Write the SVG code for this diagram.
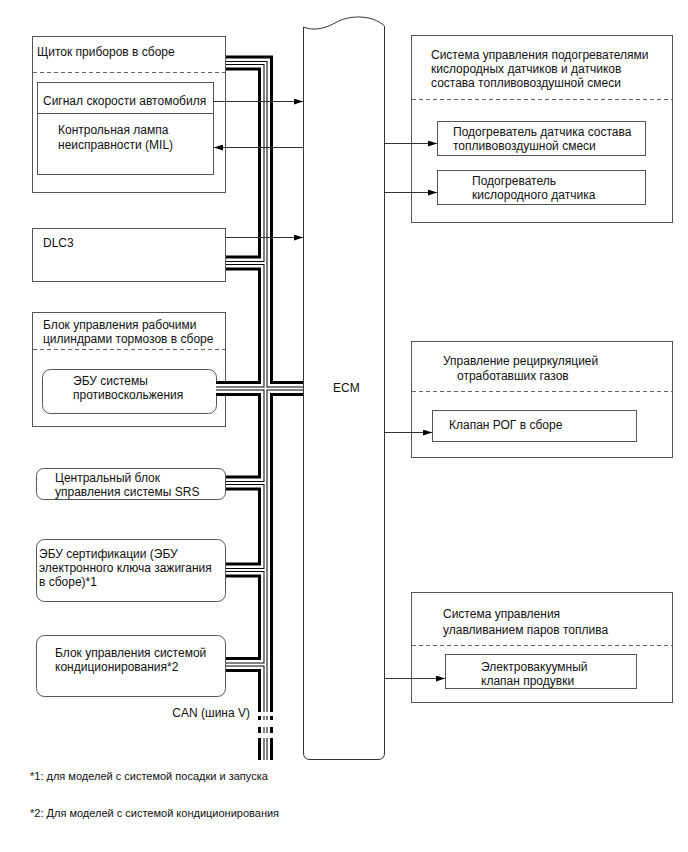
<svg xmlns="http://www.w3.org/2000/svg" xmlns:xlink="http://www.w3.org/1999/xlink" width="688" height="852" viewBox="0 0 688 852">
<style>
text{font-family:"Liberation Sans",Arial,sans-serif;font-size:12px;fill:#111}
.fn{font-size:11px}
.box{fill:none;stroke:#555;stroke-width:1}
.dash{fill:none;stroke:#666;stroke-width:1;stroke-dasharray:4 3}
.arr{fill:none;stroke:#333;stroke-width:1;marker-end:url(#ah)}
.b1{fill:none;stroke:#000;stroke-width:15;stroke-linejoin:miter}
.w1{fill:none;stroke:#fff;stroke-width:9;stroke-linejoin:miter}
.b2{fill:none;stroke:#000;stroke-width:4;stroke-linejoin:miter}
.w2{fill:none;stroke:#fff;stroke-width:2;stroke-linejoin:miter}
</style>
<defs>
<marker id="ah" markerUnits="userSpaceOnUse" markerWidth="9" markerHeight="6" refX="9" refY="3" orient="auto"><path d="M0,0 L9,3 L0,6 z" fill="#000"/></marker>
<path id="bus" d="M226 63 H265.5 V712 M226 263 H265.5 M216 388.5 H303 M226 483 H265.5 M226 570 H265.5 M226 664.5 H265.5 M265.5 716 V720 M265.5 727 V733 M265.5 738 V760"/>
</defs>
<rect width="688" height="852" fill="#fff"/>

<g id="ecm">
<path d="M303.5,27 C313,31 324,29 335,23 C348,15 372,14 384.5,26 V753 Q384.5,759.5 378,759.5 H310 Q303.5,759.5 303.5,753 Z" fill="#fff" stroke="#333" stroke-width="1"/>
<text x="333" y="392">ECM</text>
</g>

<g id="combination-meter">
<rect class="box" x="32.5" y="36.5" width="193" height="156"/>
<text x="37" y="56">Щиток приборов в сборе</text>
<line class="dash" x1="33" y1="72.5" x2="225" y2="72.5"/>
<rect class="box" x="37.5" y="82.5" width="176" height="92"/>
<line class="box" x1="37.5" y1="113.5" x2="213.5" y2="113.5"/>
<text x="43" y="105">Сигнал скорости автомобиля</text>
<text x="58" y="134">Контрольная лампа</text>
<text x="58" y="149">неисправности (MIL)</text>
</g>

<g id="dlc3">
<rect class="box" x="32.5" y="228.5" width="193" height="53"/>
<text x="43" y="247">DLC3</text>
</g>

<g id="brake-actuator">
<rect class="box" x="32.5" y="312.5" width="193" height="114"/>
<text x="43" y="329">Блок управления рабочими</text>
<text x="43" y="343">цилиндрами тормозов в сборе</text>
<line class="dash" x1="33" y1="349.5" x2="225" y2="349.5"/>
<rect class="box" x="42.5" y="369.5" width="174" height="44" rx="8"/>
<text x="73" y="385">ЭБУ системы</text>
<text x="73" y="399">противоскольжения</text>
</g>

<g id="srs">
<rect class="box" x="36.5" y="468.5" width="189" height="31" rx="7"/>
<text x="55" y="482">Центральный блок</text>
<text x="55" y="496">управления системы SRS</text>
</g>

<g id="certification">
<rect class="box" x="36.5" y="539.5" width="189" height="62" rx="8"/>
<text x="39" y="558">ЭБУ сертификации (ЭБУ</text>
<text x="39" y="572">электронного ключа зажигания</text>
<text x="39" y="586">в сборе)*1</text>
</g>

<g id="air-conditioning">
<rect class="box" x="36.5" y="635.5" width="189" height="61" rx="8"/>
<text x="55" y="657">Блок управления системой</text>
<text x="55" y="671">кондиционирования*2</text>
</g>

<g id="heater-control">
<rect class="box" x="411.5" y="35.5" width="261" height="187"/>
<text x="431" y="59">Система управления подогревателями</text>
<text x="431" y="73">кислородных датчиков и датчиков</text>
<text x="431" y="87">состава топливовоздушной смеси</text>
<line class="dash" x1="412" y1="99.5" x2="672" y2="99.5"/>
<rect class="box" x="437.5" y="121.5" width="208" height="34"/>
<text x="453" y="136">Подогреватель датчика состава</text>
<text x="453" y="150">топливовоздушной смеси</text>
<rect class="box" x="437.5" y="170.5" width="208" height="34"/>
<text x="472" y="185">Подогреватель</text>
<text x="472" y="199">кислородного датчика</text>
</g>

<g id="egr-control">
<rect class="box" x="411.5" y="341.5" width="261" height="116"/>
<text x="443" y="365">Управление рециркуляцией</text>
<text x="457" y="380">отработавших газов</text>
<line class="dash" x1="412" y1="391.5" x2="672" y2="391.5"/>
<rect class="box" x="432.5" y="410.5" width="204" height="31"/>
<text x="449" y="429">Клапан РОГ в сборе</text>
</g>

<g id="evap-control">
<rect class="box" x="411.5" y="592.5" width="261" height="110"/>
<text x="443" y="618">Система управления</text>
<text x="443" y="634">улавливанием паров топлива</text>
<line class="dash" x1="412" y1="645.5" x2="672" y2="645.5"/>
<rect class="box" x="445.5" y="654.5" width="191" height="34"/>
<text x="481" y="671">Электровакуумный</text>
<text x="481" y="685">клапан продувки</text>
</g>

<g id="connectors">
<use xlink:href="#bus" class="b1"/>
<use xlink:href="#bus" class="w1"/>
<use xlink:href="#bus" class="b2"/>
<use xlink:href="#bus" class="w2"/>
<line class="arr" x1="213.5" y1="101.5" x2="303" y2="101.5"/>
<line class="arr" x1="303" y1="147.5" x2="214" y2="147.5"/>
<line class="arr" x1="225.5" y1="237.5" x2="303" y2="237.5"/>
<line class="arr" x1="385" y1="143.5" x2="437" y2="143.5"/>
<line class="arr" x1="385" y1="192.5" x2="437" y2="192.5"/>
<line class="arr" x1="385" y1="432.5" x2="432" y2="432.5"/>
<line class="arr" x1="385" y1="678.5" x2="445" y2="678.5"/>
<text x="250" y="717" text-anchor="end">CAN (шина V)</text>
</g>

<g id="notes">
<text class="fn" x="30" y="780">*1: для моделей с системой посадки и запуска</text>
<text class="fn" x="30" y="817">*2: Для моделей с системой кондиционирования</text>
</g>
</svg>
